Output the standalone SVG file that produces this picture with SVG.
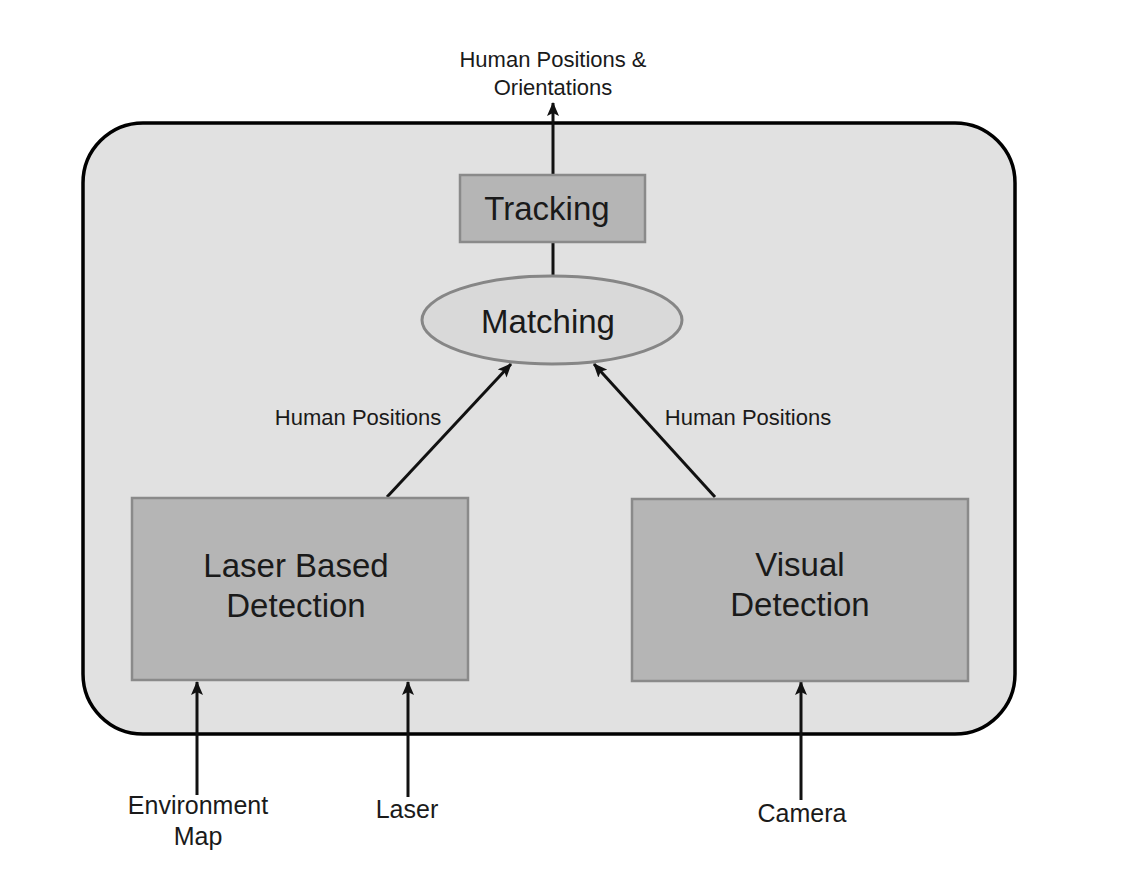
<svg xmlns="http://www.w3.org/2000/svg" width="1144" height="887" viewBox="0 0 1144 887">
<defs>
<marker id="ah" viewBox="0 0 14 12" refX="13" refY="6" markerWidth="14" markerHeight="12" markerUnits="userSpaceOnUse" orient="auto">
<path d="M0,0 L14,6 L0,12 L3,6 Z" fill="#111"/>
</marker>
</defs>
<style>
text{font-family:"Liberation Sans",Arial,sans-serif;fill:#1a1a1a;text-anchor:middle}
.box{fill:#b5b5b5;stroke:#8a8a8a;stroke-width:2.5}
.big{font-size:33px}
.sm{font-size:22px}
.in{font-size:25px}
.c{stroke:#111;stroke-width:3;fill:none;marker-end:url(#ah)}
</style>
<rect width="1144" height="887" fill="#fff"/>
<g id="system">
<rect x="83" y="123" width="932" height="611" rx="60" ry="60" fill="#e1e1e1" stroke="#000" stroke-width="3.5"/>
</g>
<g id="connectors">
<line x1="553" y1="175" x2="553" y2="103" class="c"/>
<line x1="553" y1="242" x2="553" y2="276" stroke="#111" stroke-width="3"/>
<line x1="387" y1="497" x2="511" y2="364" class="c"/>
<line x1="715" y1="497" x2="594" y2="364" class="c"/>
<line x1="197" y1="795" x2="197" y2="682" class="c"/>
<line x1="408" y1="797" x2="408" y2="682" class="c"/>
<line x1="801" y1="800" x2="801" y2="682" class="c"/>
<text x="358" y="425" class="sm">Human Positions</text>
<text x="748" y="425" class="sm">Human Positions</text>
</g>
<g id="output">
<text x="553" y="67" class="sm">Human Positions &amp;</text>
<text x="553" y="95" class="sm">Orientations</text>
</g>
<g id="tracking">
<rect x="460" y="175" width="185" height="67" class="box"/>
<text x="547" y="220" class="big">Tracking</text>
</g>
<g id="matching">
<ellipse cx="552" cy="320" rx="130" ry="44" fill="#d9d9d9" stroke="#868686" stroke-width="3"/>
<text x="548" y="333" class="big">Matching</text>
</g>
<g id="laser-detection">
<rect x="132" y="498" width="336" height="182" class="box"/>
<text x="296" y="577" class="big">Laser Based</text>
<text x="296" y="617" class="big">Detection</text>
</g>
<g id="visual-detection">
<rect x="632" y="499" width="336" height="182" class="box"/>
<text x="800" y="576" class="big">Visual</text>
<text x="800" y="616" class="big">Detection</text>
</g>
<g id="inputs">
<text x="198" y="814" class="in">Environment</text>
<text x="198" y="845" class="in">Map</text>
<text x="407" y="818" class="in">Laser</text>
<text x="802" y="822" class="in">Camera</text>
</g>
</svg>
